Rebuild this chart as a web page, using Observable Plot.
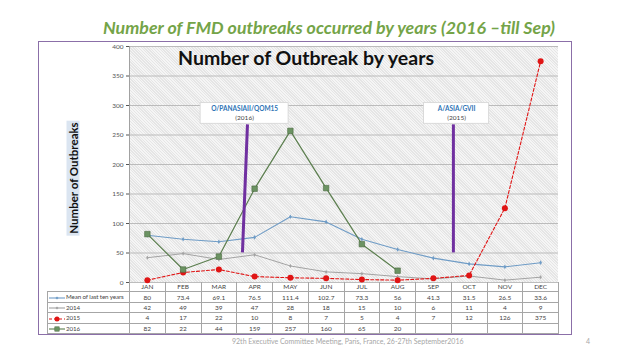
<!DOCTYPE html>
<html>
<head>
<meta charset="utf-8">
<script src="https://cdn.jsdelivr.net/npm/d3@7"></script>
<script src="https://cdn.jsdelivr.net/npm/@observablehq/plot@0.6"></script>
<style>
  html, body { margin: 0; padding: 0; width: 640px; height: 360px; background: #fff; overflow: hidden; font-family: Lato, "Open Sans", sans-serif; }
  #slide { position: relative; width: 640px; height: 360px; }
  .abs { position: absolute; }
  #title { left: 0; width: 658px; top: 16px; text-align: center; color: #74a448; font-weight: bold; font-style: italic; font-size: 17.8px; white-space: nowrap; }
  #frame { left: 38px; top: 41px; width: 532px; height: 292px; border: 1.5px solid #8b6fa8; }
  #bg { left: 129px; top: 46px; width: 429px; height: 236px; background-color: #f5f5f5;
        background-image: repeating-linear-gradient(45deg, rgba(200,200,200,0.35) 0 1px, transparent 1px 2px); }
  #chart { left: 0; top: 0; }
  #inner { left: 129px; width: 354px; top: 46px; text-align: center; font-weight: bold; font-size: 19.5px; color: #111; white-space: nowrap; }
  #ylab { left: 73px; top: 178px; transform: translate(-50%, -50%) rotate(-90deg); font-weight: bold; font-size: 11.5px; background: #dbe5f1; color: #111; padding: 0 2px; white-space: nowrap; }
  #tbl { left: 47px; top: 282px; border-collapse: collapse; table-layout: fixed; font-size: 6.5px; color: #444; }
  #tbl td { border: 1px solid #a6a6a6; height: 9.3px; padding: 0; text-align: center; white-space: nowrap; overflow: hidden; line-height: 9px; }
  #tbl td.leg { text-align: left; font-size: 6.2px; letter-spacing: -0.1px; }
  #tbl tr.head td.empty { border: none; }
  #tbl tr.head td { border-top: none; }
  #footer { left: 232px; top: 337px; font-size: 7px; color: #a6a6a6; white-space: nowrap; }
  #pg { left: 586px; top: 337px; font-size: 7px; color: #a6a6a6; }
  .sw { vertical-align: middle; margin-right: 1px; }
</style>
</head>
<body>
<div id="slide">
  <div id="title" class="abs">Number of FMD outbreaks occurred by years (2016 –till Sep)</div>
  <div id="frame" class="abs"></div>
  <div id="bg" class="abs"></div>
  <div id="chart" class="abs"></div>
  <div id="inner" class="abs">Number of Outbreak by years</div>
  <div id="ylab" class="abs">Number of Outbreaks</div>
  <table id="tbl" class="abs"></table>
  <div id="footer" class="abs">92th Executive Committee Meeting, Paris, France, 26-27th September2016</div>
  <div id="pg" class="abs">4</div>
</div>
<script>
const months = ["JAN","FEB","MAR","APR","MAY","JUN","JUL","AUG","SEP","OCT","NOV","DEC"];
const seriesNames = ["Mean of last ten years","2014","2015","2016"];
const meanTen = [80,73.4,69.1,76.5,111.4,102.7,73.3,56,41.3,31.5,26.5,33.6];
const y2014 = [42,49,39,47,28,18,15,10,6,11,4,9];
const y2015 = [4,17,22,10,8,7,5,4,7,12,126,375];
const y2016 = [82,22,44,159,257,160,65,20];
const yTicks = [0,50,100,150,200,250,300,350,400];
const annLabels = ["O/PANASIAII/QOM15","A/ASIA/GVII"];
const annYears = ["(2016)","(2015)"];
const annX = [2.72, 8.65];          // month-index position of annotation boxes
const annBoxHalf = [1.23, 0.91];    // half width of boxes in month units
const annBoxY = [269, 304];         // value range of box
const annLineX1 = [2.66, 8.56], annLineX2 = [2.80, 8.56];
const annLineY1 = [51, 51], annLineY2 = [268, 268];

const toRows = (arr) => arr.map((v, i) => ({i, v}));
const mean = toRows(meanTen), d14 = toRows(y2014), d15 = toRows(y2015), d16 = toRows(y2016);
const ann = annLabels.map((t, k) => ({
  label: t, year: annYears[k], x: annX[k],
  bx1: annX[k] - annBoxHalf[k], bx2: annX[k] + annBoxHalf[k],
  by1: annBoxY[0], by2: annBoxY[1],
  lx1: annLineX1[k], lx2: annLineX2[k], ly1: annLineY1[k], ly2: annLineY2[k]
}));

const colors = {mean: "#6f9cc6", y14: "#a3a3a3", y15: "#e01515", y16: "#5b7e4e"};

const plot = Plot.plot({
  width: 640, height: 292,
  marginLeft: 129, marginRight: 82, marginTop: 46, marginBottom: 10,
  style: {background: "transparent", fontFamily: "Lato, sans-serif", fontSize: "6.5px", color: "#555"},
  x: {type: "linear", domain: [-0.5, 11.5], axis: null},
  y: {domain: [0, 400], ticks: yTicks, tickSize: 3, tickPadding: 3, label: null},
  marks: [
    Plot.ruleY(yTicks, {stroke: "#b5b5b5", strokeWidth: 0.9}),
    Plot.ruleX([-0.5], {stroke: "#999", strokeWidth: 0.9}),
    Plot.line(d14, {x: "i", y: "v", stroke: colors.y14, strokeWidth: 1}),
    Plot.dot(d14, {x: "i", y: "v", fill: colors.y14, r: 1.3, symbol: "diamond"}),
    Plot.line(mean, {x: "i", y: "v", stroke: colors.mean, strokeWidth: 1.1}),
    Plot.dot(mean, {x: "i", y: "v", fill: colors.mean, r: 1.4, symbol: "diamond"}),
    Plot.line(d15, {x: "i", y: "v", stroke: colors.y15, strokeWidth: 1.1, strokeDasharray: "3,2"}),
    Plot.dot(d15, {x: "i", y: "v", fill: colors.y15, r: 3}),
    Plot.line(d16, {x: "i", y: "v", stroke: colors.y16, strokeWidth: 1.2}),
    Plot.dot(d16, {x: "i", y: "v", fill: "#6b9362", stroke: "#4c6a42", strokeWidth: 0.6, r: 3.1, symbol: "square"}),
    Plot.link(ann, {x1: "lx1", y1: "ly1", x2: "lx2", y2: "ly2", stroke: "#7030a0", strokeWidth: 3}),
    Plot.rect(ann, {x1: "bx1", x2: "bx2", y1: "by1", y2: "by2", fill: "white", stroke: "#d4d4d4", strokeWidth: 0.8}),
    Plot.text(ann, {x: "x", y: 295, text: "label", fill: "#2e74b5", fontSize: 6.5, fontWeight: "bold"}),
    Plot.text(ann, {x: "x", y: 279, text: "year", fill: "#444", fontSize: 6.5})
  ]
});
document.getElementById("chart").appendChild(plot);

// data table below the chart
const tbl = document.getElementById("tbl");
const colW = 429 / 12;
const cg = document.createElement("colgroup");
cg.innerHTML = `<col style="width:82px">` + months.map(() => `<col style="width:${colW}px">`).join("");
tbl.appendChild(cg);
tbl.style.width = (82 + 429) + "px";
const head = document.createElement("tr");
head.className = "head";
head.innerHTML = `<td class="empty"></td>` + months.map(m => `<td>${m}</td>`).join("");
tbl.appendChild(head);
const swatch = (c, dash, marker) => {
  let m = "";
  if (marker === "dot") m = `<circle cx="9" cy="4" r="2.5" fill="${c}"/>`;
  else if (marker === "sq") m = `<rect x="6.8" y="1.8" width="4.4" height="4.4" fill="#6b9362" stroke="#4c6a42" stroke-width="0.5"/>`;
  else m = `<path d="M9 2.5 L10.5 4 L9 5.5 L7.5 4Z" fill="${c}"/>`;
  return `<svg class="sw" width="17" height="8"><line x1="1" y1="4" x2="17" y2="4" stroke="${c}" stroke-width="1.1" ${dash ? 'stroke-dasharray="3,2"' : ''}/>${m}</svg>`;
};
const tableSeries = [
  {name: seriesNames[0], vals: meanTen, sw: swatch(colors.mean, false, "d")},
  {name: seriesNames[1], vals: y2014, sw: swatch(colors.y14, false, "d")},
  {name: seriesNames[2], vals: y2015, sw: swatch(colors.y15, true, "dot")},
  {name: seriesNames[3], vals: y2016, sw: swatch(colors.y16, false, "sq")}
];
for (const s of tableSeries) {
  const tr = document.createElement("tr");
  tr.innerHTML = `<td class="leg">${s.sw}${s.name}</td>` + months.map((m, i) => `<td>${s.vals[i] !== undefined ? s.vals[i] : ""}</td>`).join("");
  tbl.appendChild(tr);
}
</script>
</body>
</html>
